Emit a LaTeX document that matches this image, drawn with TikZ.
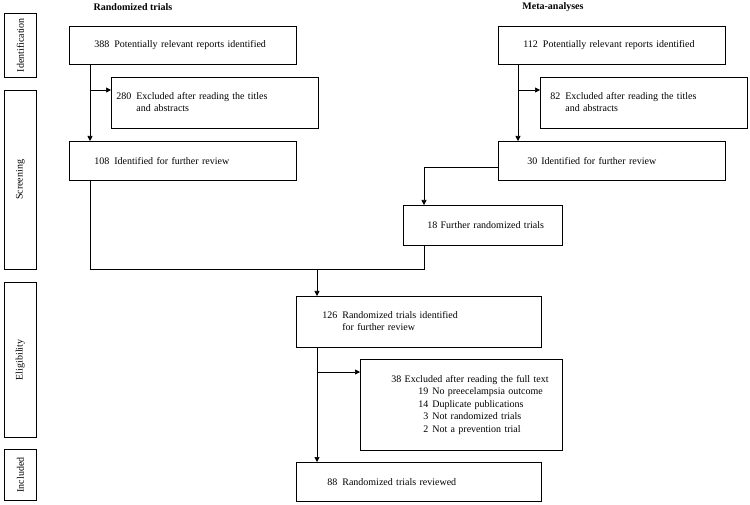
\documentclass[tikz,border=0pt]{standalone}
\usepackage{fontspec}
\setmainfont{Liberation Serif}
\usetikzlibrary{arrows.meta}
\tikzset{
  box/.style={draw, line width=0.7pt, anchor=north west, align=left, inner ysep=0pt, font=\fontsize{10}{12.5}\selectfont},
  phase/.style={draw, line width=0.7pt, anchor=north west, minimum width=32pt, inner sep=0pt, font=\fontsize{10}{12}\selectfont},
  ttl/.style={font=\fontsize{10}{12}\selectfont\bfseries},
  link/.style={line width=0.7pt},
  arr/.style={line width=0.7pt, -{Triangle[length=5pt,width=5pt]}}
}
\newcommand{\hang}[3]{\begin{tabular}{@{}r@{\hspace{5pt}}l@{}}#1 & #2\\ & #3\end{tabular}}
\newcommand{\exclitem}[2]{\hspace*{54pt}\makebox[10pt][r]{#1}\hspace{4pt}#2}
\begin{document}
\begin{tikzpicture}[x=1pt,y=-1pt]
\useasboundingbox (0,0) rectangle (750,505);
% phase boxes
\node[phase, minimum height=64pt] (pid) at (4,13) {\rotatebox{90}{Identification}};
\node[phase, minimum height=179pt] (psc) at (4,90) {\rotatebox{90}{Screening}};
\node[phase, minimum height=155pt] (pel) at (4,282) {\rotatebox{90}{Eligibility}};
\node[phase, minimum height=51pt] (pin) at (4,449) {\rotatebox{90}{Included}};
% titles
\node[ttl] (t1) at (133,7) {Randomized trials};
\node[ttl] (t2) at (553,7) {Meta-analyses};
% left column
\node[box, minimum height=38pt, inner xsep=25pt, text width=177pt] (b388) at (69,26) {388\hspace{5pt}Potentially relevant reports identified};
\node[box, minimum height=51pt, inner xsep=5pt, text width=197pt] (b280) at (111,77) {\hang{280}{Excluded after reading the titles}{and abstracts}};
\node[box, minimum height=39pt, inner xsep=25pt, text width=177pt] (b108) at (69,141) {108\hspace{5pt}Identified for further review};
% right column
\node[box, minimum height=38pt, inner xsep=25pt, text width=177pt] (b112) at (498,26) {112\hspace{5pt}Potentially relevant reports identified};
\node[box, minimum height=51pt, inner xsep=10pt, text width=187pt] (b82) at (540,77) {\hang{82}{Excluded after reading the titles}{and abstracts}};
\node[box, minimum height=39pt, inner xsep=29pt, text width=169pt] (b30) at (498,141) {30\hspace{4pt}Identified for further review};
\node[box, minimum height=40pt, inner xsep=4pt, text width=151pt] (b18) at (403,205) {\hspace*{20pt}18 Further randomized trials};
% bottom
\node[box, minimum height=51pt, inner xsep=26pt, text width=193pt] (b126) at (296,296) {\hang{126}{Randomized trials identified}{for further review}};
\node[box, minimum height=91pt, inner xsep=4pt, text width=194pt] (b38) at (360,359) {\hspace*{27pt}38 Excluded after reading the full text\\
\exclitem{19}{No preecelampsia outcome}\\
\exclitem{14}{Duplicate publications}\\
\exclitem{3}{Not randomized trials}\\
\exclitem{2}{Not a prevention trial}};
\node[box, minimum height=39pt, inner xsep=31pt, text width=183pt] (b88) at (296,462) {88\hspace{5pt}Randomized trials reviewed};
% helper coordinates
\coordinate (lx) at (90,0);
\coordinate (rx) at (518,0);
\coordinate (br1) at (90,90);
\coordinate (br2) at (518,90);
\coordinate (s30) at (498,167);
\coordinate (mx) at (424,0);
\coordinate (m) at (317,269);
\coordinate (br3) at (317,372);
% connectors
\draw[arr] (b388.south -| lx) -- (b108.north -| lx);
\draw[arr] (br1) -- (br1 -| b280.west);
\draw[arr] (b112.south -| rx) -- (b30.north -| rx);
\draw[arr] (br2) -- (br2 -| b82.west);
\draw[arr] (s30) -| (b18.north -| mx);
\draw[link] (b108.south -| lx) |- (m);
\draw[link] (b18.south -| mx) |- (m);
\draw[arr] (m) -- (m |- b126.north);
\draw[arr] (b126.south -| m) -- (b88.north -| m);
\draw[arr] (br3) -- (br3 -| b38.west);
\end{tikzpicture}
\end{document}
